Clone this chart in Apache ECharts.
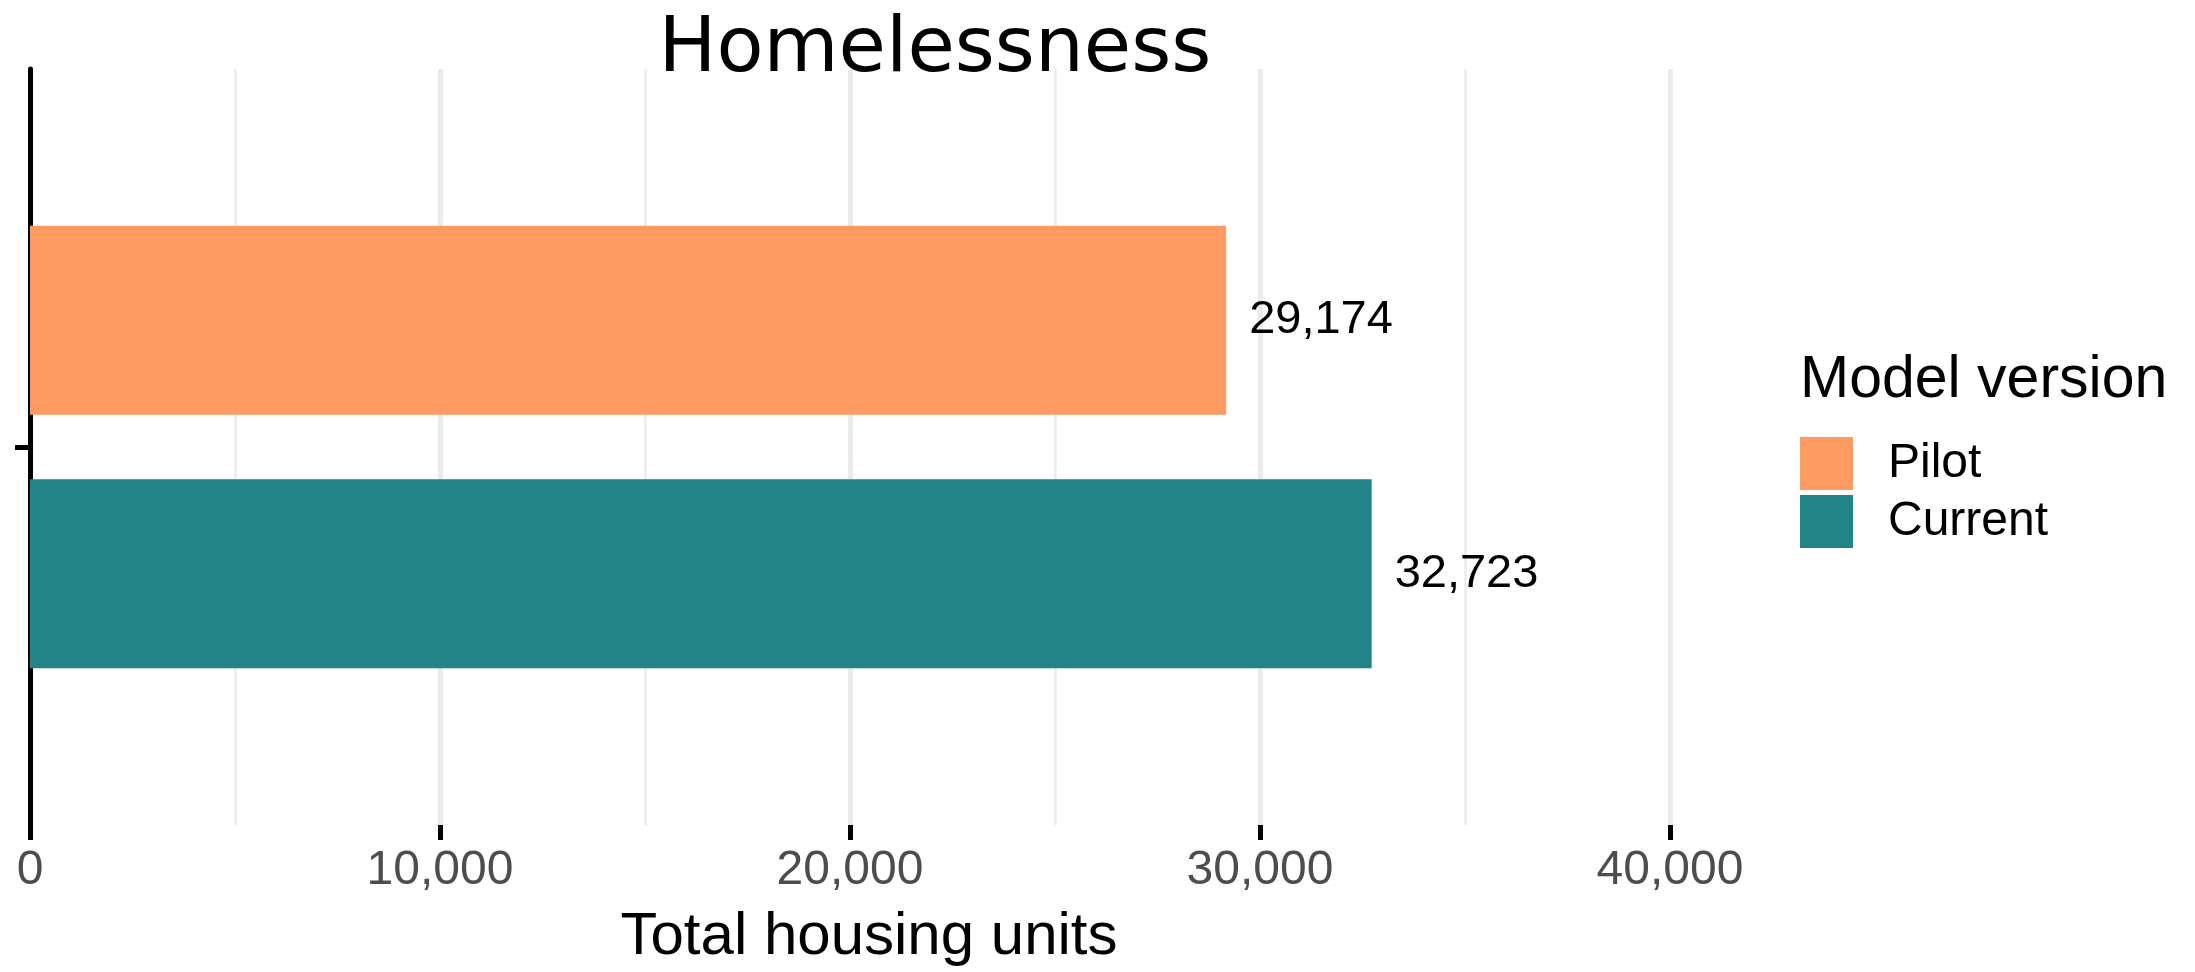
<!DOCTYPE html>
<html>
<head>
<meta charset="utf-8">
<script src="https://cdn.jsdelivr.net/npm/echarts@6/dist/echarts.min.js"></script>
<style>
html,body{margin:0;padding:0;background:#fff;}
#chart{width:2195px;height:972px;}
</style>
</head>
<body>
<div id="chart"></div>
<script>
const categories = ['Homelessness'];
const seriesNames = ['Pilot', 'Current'];
const pilotValues = [29174];
const currentValues = [32723];
const xTicks = [0, 10000, 20000, 30000, 40000];
const colors = ['#FD9B63', '#228486'];

const FONT = 'Liberation Sans';
const fmt = v => Number(v).toLocaleString('en-US');

const chart = echarts.init(document.getElementById('chart'), null, {renderer: 'canvas'});
chart.setOption({
  animation: false,
  backgroundColor: '#fff',
  grid: {left: 30, top: 69, width: 1640, bottom: 144, containLabel: false},
  xAxis: {
    type: 'value',
    min: xTicks[0],
    max: xTicks[xTicks.length - 1],
    interval: 10000,
    name: 'Total housing units',
    nameLocation: 'middle',
    nameGap: 82,
    nameTextStyle: {fontFamily: FONT, fontSize: 60, color: '#000', padding: [0, 0, 0, 38]},
    axisLine: {show: false},
    axisTick: {show: true, length: 15, lineStyle: {color: '#000', width: 5}},
    axisLabel: {fontFamily: FONT, fontSize: 48, color: '#4D4D4D', margin: 22, formatter: v => fmt(v)},
    splitLine: {show: true, lineStyle: {color: '#EBEBEB', width: 5}},
    minorTick: {show: false, splitNumber: 2},
    minorSplitLine: {show: true, lineStyle: {color: '#EBEBEB', width: 2.5}}
  },
  yAxis: {
    type: 'category',
    data: categories,
    inverse: true,
    axisLine: {show: true, lineStyle: {color: '#000', width: 5}},
    axisTick: {show: true, alignWithLabel: true, length: 15, lineStyle: {color: '#000', width: 5}},
    axisLabel: {show: false},
    splitLine: {show: false}
  },
  legend: {
    orient: 'vertical',
    left: 1800,
    top: 437,
    padding: 0,
    itemWidth: 53,
    itemHeight: 53,
    itemGap: 5,
    icon: 'rect',
    data: seriesNames,
    textStyle: {fontFamily: FONT, fontSize: 48, color: '#000', lineHeight: 53, padding: [0, 0, 0, 30]}
  },
  graphic: [
    {type: 'text', x: 935, y: 51, style: {text: 'Homelessness', font: '77px "DejaVu Sans"', fill: '#000', textAlign: 'center', textVerticalAlign: 'middle'}},
    {type: 'text', x: 1800, y: 381, style: {text: 'Model version', font: '59px "Liberation Sans"', fill: '#000', textAlign: 'left', textVerticalAlign: 'middle'}}
  ],
  series: [
    {
      name: seriesNames[0], type: 'bar', data: pilotValues,
      barWidth: 189, barGap: '34%',
      itemStyle: {color: colors[0]},
      label: {show: true, position: 'right', distance: 23, fontFamily: FONT, fontSize: 47, color: '#000', formatter: p => fmt(p.value)}
    },
    {
      name: seriesNames[1], type: 'bar', data: currentValues,
      barWidth: 189, barGap: '34%',
      itemStyle: {color: colors[1]},
      label: {show: true, position: 'right', distance: 23, fontFamily: FONT, fontSize: 47, color: '#000', formatter: p => fmt(p.value)}
    }
  ]
});
</script>
</body>
</html>
